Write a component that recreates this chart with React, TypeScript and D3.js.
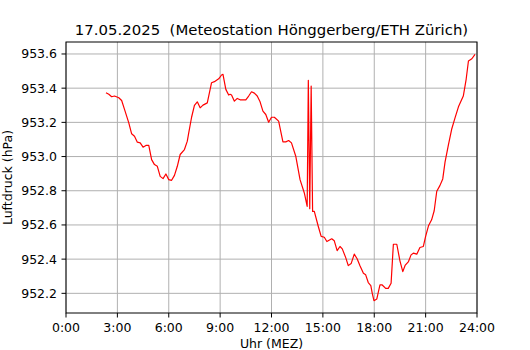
import React from "react";
import * as d3 from "d3";

// Messzeitpunkte (MEZ) und Luftdruck in hPa
const times = [
  "2:20", "2:30", "2:40", "2:50", "3:05", "3:15", "3:25", "3:40", "3:50", "4:00",
  "4:10", "4:20", "4:30", "4:40", "4:50", "5:00", "5:10", "5:20", "5:30", "5:40",
  "5:50", "6:00", "6:10", "6:20", "6:30", "6:40", "6:55", "7:05", "7:10", "7:20",
  "7:30", "7:40", "7:50", "8:00", "8:15", "8:30", "8:40", "8:55", "9:05", "9:10",
  "9:20", "9:30", "9:35", "9:40", "9:50", "10:00", "10:10", "10:30", "10:40", "10:50",
  "11:00", "11:10", "11:20", "11:30", "11:40", "11:50", "12:00", "12:10", "12:25", "12:40",
  "12:50", "13:00", "13:10", "13:25", "13:40", "13:55", "14:05", "14:09", "14:14", "14:19",
  "14:24", "14:30", "14:44", "14:54", "15:05", "15:14", "15:31", "15:40", "15:50", "16:00",
  "16:08", "16:20", "16:29", "16:39", "16:50", "17:00", "17:10", "17:22", "17:30", "17:39",
  "17:48", "17:53", "17:59", "18:09", "18:20", "18:28", "18:40", "18:49", "18:59", "19:07",
  "19:19", "19:30", "19:40", "19:48", "20:00", "20:09", "20:17", "20:29", "20:40", "20:52",
  "21:00", "21:10", "21:21", "21:30", "21:39", "21:50", "22:00", "22:08", "22:20", "22:31",
  "22:43", "22:55", "23:12", "23:22", "23:30", "23:42", "23:53",
];

const pressure = [
  953.373, 953.364, 953.35, 953.354, 953.344, 953.328, 953.276, 953.197, 953.133, 953.119,
  953.084, 953.08, 953.055, 953.065, 953.065, 952.982, 952.953, 952.943, 952.884, 952.871,
  952.898, 952.865, 952.861, 952.89, 952.943, 953.012, 953.041, 953.09, 953.138, 953.23,
  953.299, 953.32, 953.285, 953.301, 953.314, 953.432, 953.438, 953.455, 953.477, 953.481,
  953.393, 953.36, 953.364, 953.36, 953.324, 953.34, 953.332, 953.332, 953.354, 953.379,
  953.371, 953.354, 953.32, 953.266, 953.246, 953.201, 953.23, 953.23, 953.207, 953.086,
  953.086, 953.094, 953.08, 953.002, 952.865, 952.787, 952.709, 953.446, 952.695, 953.412,
  952.679, 952.679, 952.591, 952.533, 952.528, 952.503, 952.519, 952.507, 952.45, 952.474,
  952.46, 952.409, 952.362, 952.374, 952.429, 952.402, 952.361, 952.317, 952.308, 952.263,
  952.245, 952.2, 952.157, 952.167, 952.249, 952.249, 952.229, 952.229, 952.259, 952.487,
  952.487, 952.39, 952.327, 952.363, 952.386, 952.425, 952.435, 952.429, 952.468, 952.474,
  952.533, 952.595, 952.63, 952.683, 952.797, 952.83, 952.869, 952.967, 953.07, 953.158,
  953.226, 953.291, 953.354, 953.452, 953.559, 953.572, 953.598,
];

const xTicks = [0, 3, 6, 9, 12, 15, 18, 21, 24];
const yTicks = [952.2, 952.4, 952.6, 952.8, 953.0, 953.2, 953.4, 953.6];

const title = "17.05.2025  (Meteostation Hönggerberg/ETH Zürich)";
const xLabel = "Uhr (MEZ)";
const yLabel = "Luftdruck (hPa)";

const width = 530;
const height = 350;
const margin = { top: 42, right: 53, bottom: 37, left: 66 };
const font = "'DejaVu Sans', sans-serif";

function toHours(t: string) {
  const [h, m] = t.split(":").map(Number);
  return h + m / 60;
}

export default function App() {
  const data = times.map((t, i) => ({ h: toHours(t), p: pressure[i] }));

  const [pMin, pMax] = d3.extent(pressure) as [number, number];
  const pad = (pMax - pMin) * 0.05;

  const x = d3.scaleLinear().domain([0, 24]).range([margin.left, width - margin.right]);
  const y = d3.scaleLinear().domain([pMin - pad, pMax + pad]).range([height - margin.bottom, margin.top]);

  const line = d3
    .line<{ h: number; p: number }>()
    .x((d) => x(d.h))
    .y((d) => y(d.p));

  const x0 = margin.left;
  const x1 = width - margin.right;
  const y0 = height - margin.bottom;
  const y1 = margin.top;

  return (
    <svg
      width={width}
      height={height}
      style={{ position: "absolute", left: 0, top: 0, background: "#fff" }}
      fontFamily={font}
    >
      <rect x={0} y={0} width={width} height={height} fill="#fff" />

      {/* Gitter */}
      <g stroke="#b0b0b0" strokeWidth={1}>
        {xTicks.map((t) => (
          <line key={"gx" + t} x1={x(t)} x2={x(t)} y1={y0} y2={y1} />
        ))}
        {yTicks.map((t) => (
          <line key={"gy" + t} x1={x0} x2={x1} y1={y(t)} y2={y(t)} />
        ))}
      </g>

      <path d={line(data) || ""} fill="none" stroke="#ff0000" strokeWidth={1.2} strokeLinejoin="round" />

      {/* Achsen */}
      <rect x={x0} y={y1} width={x1 - x0} height={y0 - y1} fill="none" stroke="#000" strokeWidth={1} />

      <g fontSize={12.5} fill="#000">
        {xTicks.map((t) => (
          <g key={"tx" + t}>
            <line x1={x(t)} x2={x(t)} y1={y0} y2={y0 + 4.5} stroke="#000" />
            <text x={x(t)} y={y0 + 9} dy="0.76em" textAnchor="middle">
              {`${t}:00`}
            </text>
          </g>
        ))}
        {yTicks.map((t) => (
          <g key={"ty" + t}>
            <line x1={x0 - 4.5} x2={x0} y1={y(t)} y2={y(t)} stroke="#000" />
            <text x={x0 - 9} y={y(t)} dy="0.36em" textAnchor="end">
              {t.toFixed(1)}
            </text>
          </g>
        ))}
      </g>

      <text
        x={(x0 + x1) / 2}
        y={34.5}
        textAnchor="middle"
        fontSize={14.9}
        fill="#000"
        style={{ whiteSpace: "pre" }}
      >
        {title}
      </text>
      <text x={(x0 + x1) / 2} y={348} textAnchor="middle" fontSize={12.5} fill="#000">
        {xLabel}
      </text>
      <text
        transform={`translate(12, ${(y0 + y1) / 2}) rotate(-90)`}
        textAnchor="middle"
        fontSize={12.5}
        fill="#000"
      >
        {yLabel}
      </text>
    </svg>
  );
}
